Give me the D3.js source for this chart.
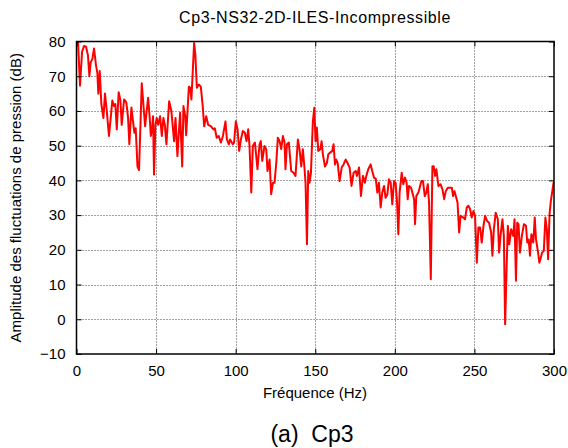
<!DOCTYPE html>
<html><head><meta charset="utf-8">
<script src="https://cdn.jsdelivr.net/npm/d3@7"></script>
<style>
html,body{margin:0;padding:0;background:#fff;}
text{font-family:"Liberation Sans",Arial,Helvetica,sans-serif;fill:#000;}
</style></head>
<body><svg id="c" width="568" height="448"></svg>
<script>
const title = "Cp3-NS32-2D-ILES-Incompressible";
const xLabel = "Fréquence (Hz)";
const yLabel = "Amplitude des fluctuations de pression (dB)";
const caption = "(a)  Cp3";
const xTicks = [0, 50, 100, 150, 200, 250, 300];
const yTicks = [-10, 0, 10, 20, 30, 40, 50, 60, 70, 80];

const freq = [0,0.9,2.2,3.5,4.7,6.0,7.2,8.1,8.9,10,11,12.3,13.1,13.7,14.6,15.6,16.9,17.9,19,20.4,21.5,22.5,23.6,24.4,25.3,26.5,27.6,28.4,29.9,31.3,32.4,33.2,34.5,35.5,36.4,37.2,38.3,39.3,41,42,43.1,44.1,45,46,46.7,47.5,48.1,48.7,49.6,50.4,51.3,52.5,53.6,54.6,55.5,56.5,58.2,59.6,
61.3,62.2,63.4,65.1,66.4,67.2,68.3,68.9,70.6,71.4,72.2,73.9,74.7,75.6,76.8,78.1,79.3,80.2,81.5,82.7,84.4,86.0,86.9,88.1,89.4,90.7,92.0,93.6,94.5,95.7,96.5,98.2,99.0,100.1,101.2,102.2,103.3,104.5,105.8,106.8,107.9,108.7,109.8,110.8,112.1,113.7,115.0,115.8,116.7,118.1,119.2,120.0,
121.3,122.3,123.4,124.4,125.5,126.5,127.6,128.6,129.7,130.7,131.3,132.2,133.4,134.9,136.4,137.6,139.1,140.1,141.2,142.2,143.3,143.9,144.8,145.6,146.4,147.3,148.5,149.4,150.2,151.0,151.9,153.2,154.0,154.8,156.1,157.3,158.2,159.4,160.7,161.5,162.4,163.2,164.1,165.3,166.6,167.8,169.1,170.3,171.6,172.8,174.1,175.4,176.2,177.5,178.7,180.0,
181.2,182.1,183.3,184.8,185.8,186.9,188.0,189.0,190.0,191.1,192.1,193.2,194.2,195.3,196.3,197.4,198.4,199.5,200.5,201.4,202.2,203.0,204.3,205.3,206.4,207.4,208.1,208.9,210.2,211.0,212.1,212.7,213.5,214.8,215.6,216.7,217.7,218.8,219.8,220.7,221.5,222.6,223.6,224.4,225.3,226.1,227.4,228.7,229.9,231.0,232.0,233.3,234.5,235.8,236.6,237.5,238.3,239.4,240.4,241.3,
243.1,244.1,245.2,246.2,247.3,248.3,249.4,250.4,251.5,252.5,253.6,254.6,255.7,256.7,258.0,259.2,260.5,261.3,262.2,263.4,264.7,265.5,266.4,267.6,268.5,269.3,270.2,271.0,271.9,273.1,274.4,275.2,276.1,276.9,277.7,278.6,279.8,281.1,282.4,283.2,284.1,284.9,285.8,287.0,287.9,288.7,290.0,290.8,291.7,292.5,293.6,294.6,295.5,296.3,297.2,298.0,298.8,299.7,300.5];

const amp = [83,80.5,67.3,77,78.7,78.5,76,70,74,75,78,73,71,65,71.5,62,58,65,60,52.8,58,63,61.4,62,54.7,65.4,63,56,63.3,62.5,58,50.4,61,57,53.7,55,44,43,68,62,55.6,60,63.8,58,52.8,55,58.5,41.7,56,58,56,58.5,52.8,58,56,50.4,62.8,60,
51.3,58,47,59.5,44,61.4,58.5,53,67,66.7,63.3,79.6,76,66.7,67.6,67,61.4,55.6,58.5,56,55.6,54.7,55,52.3,52.8,50.9,52.8,57,51.8,50.4,51.8,50.4,50.9,57,54.7,48.5,51.8,54.2,53.7,51.3,54.7,49.9,36.5,49.9,50.9,43.2,50.4,51.3,45.6,49.9,49,42.7,
46,36,39.3,39.3,45,52.3,51.3,49,52.8,50.9,43.2,50.4,50.9,42.7,42.2,41.3,51.8,49,44,49,43.2,39.3,21.6,42.7,39.3,42.2,57,60.9,51.3,55.2,48.5,49,51.3,47.5,44,45,47.5,48,48.5,50.4,44.6,46,45,39.8,43.7,44.6,46,45,43.7,38.4,42.2,42.7,41.3,43.7,35.5,41.3,
39.3,41.3,43.2,44.6,42.7,40.8,40.5,36.5,39.3,32.2,36.5,38.4,35,36,40.3,39.3,33.1,39.8,39.3,33.6,24.5,36.5,42.2,38.9,40.8,39.3,34.6,38.4,37.9,36.5,34.6,27.4,35.5,36.5,37.9,39.8,39.8,35.5,36.5,38.9,33.6,11.5,44.1,44.1,41.3,43.2,38.4,38.9,37.4,34.6,36.9,37.9,37.9,37.9,35.5,36.9,35.5,33.6,25,29.8,
29.3,28.8,32.2,32.7,31.7,29.3,31.2,29.8,16.3,26.4,26.4,22.1,26.9,29.8,28.3,27.8,25,18.3,25.9,30.7,28.8,19.2,24,28.8,24,-1.4,14.4,26.9,21.6,25.9,24,28.8,11.1,27.8,27.4,19.2,24,27.4,26.9,22.1,23,18.3,24.5,22.1,29.3,23,19.2,16.3,17.7,19.2,19.7,29.3,25.9,17.3,30.2,34,36.5,39.3,37];

const svg = d3.select("#c");
const L = 76.5, R = 554, T = 41.5, B = 354;
const x = d3.scaleLinear().domain([0, 300]).range([L, R]);
const y = d3.scaleLinear().domain([-10, 80]).range([B, T]);

// grid
const grid = svg.append("g").attr("stroke", "#444").attr("stroke-width", 1).attr("stroke-dasharray", "1,2");
grid.selectAll(".gx").data(xTicks.slice(1, -1)).join("line")
  .attr("x1", d => Math.round(x(d)) + 0.5).attr("x2", d => Math.round(x(d)) + 0.5)
  .attr("y1", T).attr("y2", B);
grid.selectAll(".gy").data(yTicks.slice(1, -1)).join("line")
  .attr("y1", d => Math.round(y(d)) + 0.5).attr("y2", d => Math.round(y(d)) + 0.5)
  .attr("x1", L).attr("x2", R);

// clip
svg.append("clipPath").attr("id", "clip").append("rect")
  .attr("x", L).attr("y", T).attr("width", R - L).attr("height", B - T);

const line = d3.line().x((d, i) => x(freq[i])).y(d => y(d));
svg.append("path").datum(amp).attr("clip-path", "url(#clip)")
  .attr("d", line).attr("fill", "none").attr("stroke", "#ff0000")
  .attr("stroke-width", 2).attr("stroke-linejoin", "round");

// axes with inward ticks
const fmt = d3.format("d");
const axB = svg.append("g").attr("transform", `translate(0,${B})`)
  .call(d3.axisBottom(x).tickValues(xTicks).tickSize(-5).tickPadding(11).tickFormat(fmt));
const axT = svg.append("g").attr("transform", `translate(0,${T})`)
  .call(d3.axisTop(x).tickValues(xTicks).tickSize(-5).tickFormat(""));
const axL = svg.append("g").attr("transform", `translate(${L},0)`)
  .call(d3.axisLeft(y).tickValues(yTicks).tickSize(-5).tickPadding(11).tickFormat(fmt));
const axR = svg.append("g").attr("transform", `translate(${R},0)`)
  .call(d3.axisRight(y).tickValues(yTicks).tickSize(-5).tickFormat(""));
[axB, axT, axL, axR].forEach(a => {
  a.select(".domain").remove();
  a.selectAll("line").attr("stroke", "#000");
  a.selectAll("text").style("font-size", "15px").style("font-family", '"Liberation Sans",Arial,sans-serif');
});

svg.append("rect").attr("x", L).attr("y", T).attr("width", R - L).attr("height", B - T)
  .attr("fill", "none").attr("stroke", "#000").attr("stroke-width", 1.5);

svg.append("text").attr("x", 315).attr("y", 23).attr("text-anchor", "middle")
  .style("font-size", "16px").style("letter-spacing", "0.6px").text(title);
svg.append("text").attr("x", 315).attr("y", 398).attr("text-anchor", "middle")
  .style("font-size", "15px").text(xLabel);
svg.append("text").attr("transform", `translate(21,${(T + B) / 2}) rotate(-90)`)
  .attr("text-anchor", "middle").style("font-size", "15px").text(yLabel);
svg.append("text").attr("x", 312).attr("y", 442).attr("text-anchor", "middle")
  .style("font-size", "23px").style("white-space", "pre").attr("xml:space", "preserve").text(caption);
</script></body></html>
